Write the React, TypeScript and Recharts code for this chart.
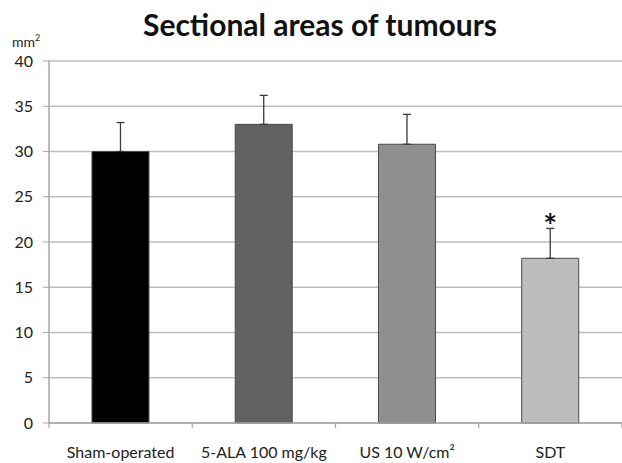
import { Bar, BarChart, CartesianGrid, Cell, ErrorBar, LabelList, XAxis, YAxis } from "recharts";

const groups = ["Sham-operated", "5-ALA 100 mg/kg", "US 10 W/cm\u00b2", "SDT"];
const means = [30.0, 33.0, 30.8, 18.2];
const sem = [3.2, 3.2, 3.3, 3.3];
const marks = ["", "", "", "*"];
const yTicks = [0, 5, 10, 15, 20, 25, 30, 35, 40];

const fills = ["#000000", "#616161", "#8f8f8f", "#bdbdbd"];

const data = groups.map((g, i) => ({
  name: g,
  value: means[i],
  err: [0, sem[i]],
  mark: marks[i],
}));

const font = "Lato, 'Open Sans', sans-serif";

function GroupTick(props: any) {
  const { x, y, payload, index, visibleTicksCount, width } = props;
  const bw = width / visibleTicksCount;
  const y0 = y - 8;
  return (
    <g>
      <line x1={x - bw / 2} y1={y0} x2={x - bw / 2} y2={y0 + 5} stroke="#a6a6a6" strokeWidth={1.2} />
      {index === visibleTicksCount - 1 && (
        <line x1={x + bw / 2} y1={y0} x2={x + bw / 2} y2={y0 + 5} stroke="#a6a6a6" strokeWidth={1.2} />
      )}
      <text x={x} y={y0 + 35} textAnchor="middle" fontSize={16} fill="#222" fontFamily={font}>
        {payload.value}
      </text>
    </g>
  );
}

export default function App() {
  return (
    <div style={{ position: "relative", width: 622, height: 463, background: "#fff" }}>
      <style>{"body{margin:0}"}</style>
      <div
        style={{
          position: "absolute",
          left: 0,
          width: 640,
          top: 5,
          textAlign: "center",
          fontFamily: font,
          fontWeight: 700,
          fontSize: 30,
          color: "#111",
          lineHeight: "38px",
        }}
      >
        Sectional areas of tumours
      </div>
      <div
        style={{
          position: "absolute",
          left: 12,
          top: 34,
          fontFamily: font,
          fontSize: 14,
          lineHeight: "16px",
          color: "#222",
        }}
      >
        mm<sup style={{ fontSize: 9, lineHeight: 0 }}>2</sup>
      </div>
      <BarChart
        width={622}
        height={463}
        data={data}
        margin={{ top: 61, right: 0, bottom: 0, left: 0 }}
        barCategoryGap="30%"
      >
        <CartesianGrid vertical={false} stroke="#bdbdbd" strokeWidth={1.5} />
        <XAxis
          dataKey="name"
          height={40}
          tickLine={false}
          axisLine={{ stroke: "#a6a6a6", strokeWidth: 1.5 }}
          tick={<GroupTick />}
          interval={0}
        />
        <YAxis
          width={49}
          domain={[0, 40]}
          ticks={yTicks}
          tickSize={6}
          tickMargin={10}
          tickLine={{ stroke: "#a6a6a6" }}
          axisLine={{ stroke: "#a6a6a6", strokeWidth: 1.5 }}
          tick={{ fill: "#222", fontSize: 16, fontFamily: font }}
        />
        <Bar dataKey="value" stroke="#4a4a4a" strokeWidth={1} isAnimationActive={false}>
          {data.map((d, i) => (
            <Cell key={d.name} fill={fills[i]} />
          ))}
          <ErrorBar dataKey="err" width={4} stroke="#3a3a3a" strokeWidth={1.3} direction="y" />
          <LabelList
            dataKey="mark"
            position="top"
            offset={20}
            fill="#111"
            fontSize={33}
            fontWeight={700}
            fontFamily={font}
          />
        </Bar>
      </BarChart>
    </div>
  );
}
